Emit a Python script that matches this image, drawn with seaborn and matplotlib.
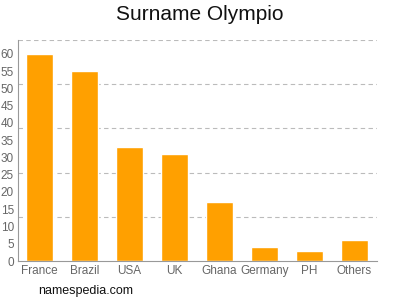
import numpy as np
import pandas as pd
import matplotlib
matplotlib.use('Agg')
import matplotlib.pyplot as plt
import seaborn as sns

countries = ['France', 'Brazil', 'USA', 'UK', 'Ghana', 'Germany', 'PH', 'Others']
counts = [60, 55, 33, 31, 17, 4, 3, 6]
yticks = list(range(0, 65, 5))
gridlines = [12.8, 25.6, 38.4, 51.2, 64]

df = pd.DataFrame({'country': countries, 'count': counts})

sns.set_style('white')
plt.rcParams['font.family'] = ['Liberation Sans', 'DejaVu Sans']

fig = plt.figure(figsize=(4, 3), dpi=100)
ax = fig.add_axes([0.045, 0.13, 0.8975, 0.7367])

sns.barplot(x='country', y='count', data=df, color='#ffa000', width=0.6,
            saturation=1, ax=ax)

ax.set_ylim(0, 64)
ax.set_xlim(-0.48, 7.5)
ax.set_yticks(yticks)
ax.set_yticks(gridlines, minor=True)
ax.grid(False)
ax.yaxis.grid(True, which='minor', linestyle=(0, (4, 3)), color='#bbbbbb', linewidth=0.8)
ax.tick_params(axis='y', which='minor', length=0)
ax.tick_params(axis='both', which='major', labelsize=8.5, colors='#666666', length=2, width=0.6, pad=1)
ax.set_xlabel('')
ax.set_ylabel('')
for side in ['top', 'right']:
    ax.spines[side].set_visible(False)
for side in ['left', 'bottom']:
    ax.spines[side].set_color('#999999')
    ax.spines[side].set_linewidth(0.8)
ax.set_axisbelow(True)

fig.text(0.5, 0.953, 'Surname Olympio', ha='center', va='center', fontsize=15, color='#111111')
fig.text(0.095, 0.03, 'namespedia.com', ha='left', va='center', fontsize=9, color='#111111')

plt.savefig('out.png', dpi=100)
